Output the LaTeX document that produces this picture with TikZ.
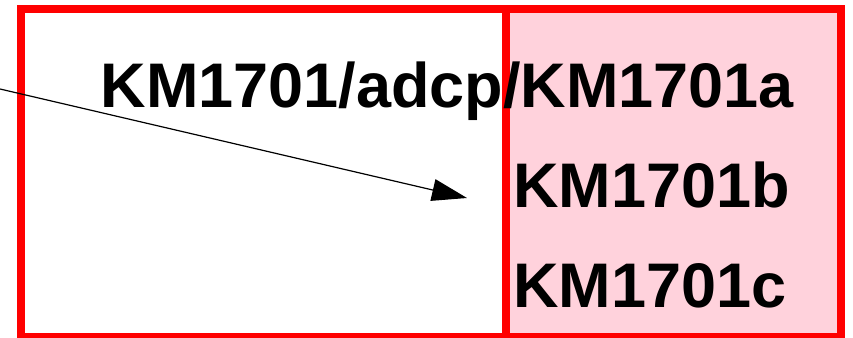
\documentclass[tikz,border=0pt]{standalone}
\usepackage{fontspec}
\setmainfont{Liberation Sans}
\usetikzlibrary{arrows.meta}
\definecolor{boxred}{RGB}{255,0,0}
\definecolor{boxpink}{RGB}{255,210,220}
\begin{document}
\begin{tikzpicture}[x=1pt,y=-1pt,
  frame/.style={draw=boxred,line width=7.5pt},
  lbl/.style={font=\fontsize{63}{63}\bfseries\selectfont,inner sep=0pt,anchor=base west},
  conn/.style={line width=1.2pt,-{Triangle[length=35pt,width=22pt]}}]
\useasboundingbox (0,0) rectangle (853,337);
\fill[boxpink] (506,9) rectangle (841,337);
\node[frame,minimum width=820pt,minimum height=328pt,anchor=north west,inner sep=0pt,outer sep=0pt] (outer) at (21,9) {};
\draw[frame] (506,9) rectangle (841,337);
\node[lbl] (a) at (100.5,107) {KM1701/adcp/KM1701a};
\node[lbl] (b) at (513,207) {KM1701b};
\node[lbl] (c) at (513,307) {KM1701c};
\coordinate (src) at (0,89);
\coordinate (dst) at (467,198);
\draw[conn] (src) -- (dst);
\end{tikzpicture}
\end{document}
